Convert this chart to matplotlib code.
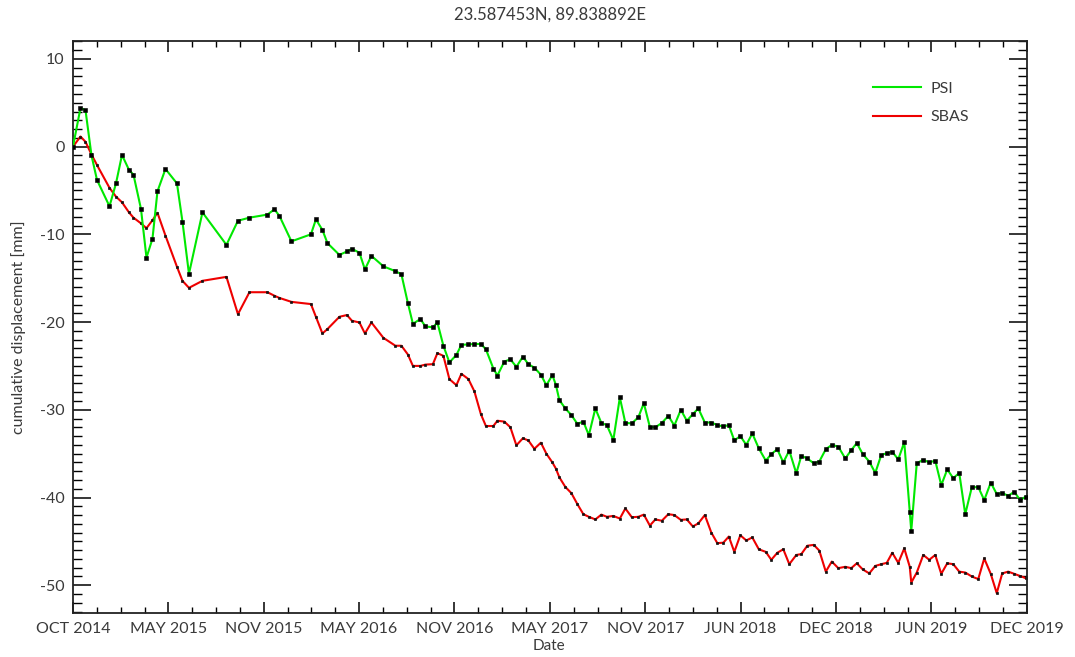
import numpy as np
import matplotlib
matplotlib.use('Agg')
import matplotlib.pyplot as plt
import matplotlib.dates as mdates
from matplotlib.ticker import MultipleLocator, FixedLocator

plt.rcParams['font.family'] = ['Lato', 'DejaVu Sans']
plt.rcParams['axes.unicode_minus'] = False

# acquisition days since first image
start = np.datetime64('2014-10-07')
days = [0, 15, 25, 37, 48, 73, 86, 98, 112, 121, 136, 147, 159, 169, 185, 208, 219, 232, 259, 307,
        330, 353, 389, 403, 413, 437, 476, 486, 499, 509, 533, 548, 558, 573, 584, 597, 621, 645, 657, 670,
        680, 695, 705, 720, 729, 741, 753, 767, 777, 791, 803, 816, 826, 841, 849, 863, 875, 887, 900, 911,
        923, 936, 947, 959, 966, 973, 985, 997, 1009, 1021, 1032, 1045, 1057, 1068, 1081, 1094, 1105, 1118, 1131, 1142,
        1154, 1165, 1178, 1191, 1203, 1216, 1228, 1240, 1251, 1264, 1277, 1289, 1301, 1312, 1323, 1335, 1347, 1359, 1372, 1386,
        1397, 1409, 1421, 1433, 1447, 1457, 1469, 1482, 1493, 1506, 1518, 1531, 1545, 1557, 1568, 1580, 1593, 1605, 1617, 1628,
        1639, 1651, 1663, 1674, 1677, 1688, 1701, 1713, 1725, 1737, 1749, 1761, 1773, 1785, 1798, 1811, 1823, 1836, 1848, 1859,
        1871, 1883, 1895, 1906]

psi = [0, 4.4, 4.15, -1.0, -3.8, -6.8, -4.2, -0.95, -2.65, -3.2, -7.1, -12.65, -10.5, -5.1, -2.55, -4.2, -8.55, -14.5, -7.5, -11.2,
       -8.45, -8.1, -7.75, -7.15, -7.9, -10.8, -10.0, -8.3, -9.5, -11.0, -12.35, -11.95, -11.65, -12.1, -14.0, -12.45, -13.65, -14.2, -14.55, -17.85,
       -20.2, -19.65, -20.5, -20.6, -20.05, -22.7, -24.6, -23.75, -22.6, -22.55, -22.5, -22.5, -23.1, -25.3, -26.1, -24.5, -24.25, -25.1, -23.95, -24.8,
       -25.2, -26.0, -27.2, -26.05, -27.15, -28.9, -29.85, -30.6, -31.6, -31.35, -32.9, -29.85, -31.5, -31.75, -33.45, -28.6, -31.5, -31.55, -30.85, -29.25,
       -31.95, -32.0, -31.5, -30.7, -31.8, -30.0, -31.25, -30.5, -29.85, -31.45, -31.45, -31.75, -31.9, -31.75, -33.5, -33.0, -34.0, -32.7, -34.4, -35.8,
       -35.05, -34.5, -36.0, -34.65, -37.25, -35.25, -35.55, -36.1, -35.9, -34.5, -34.0, -34.2, -35.55, -34.6, -33.8, -35.05, -35.9, -37.2, -35.15, -34.95,
       -34.8, -35.65, -33.7, -41.6, -43.8, -36.1, -35.7, -36.0, -35.8, -38.6, -36.8, -37.8, -37.2, -41.9, -38.85, -38.8, -40.3, -38.3, -39.6, -39.5,
       -39.8, -39.35, -40.3, -39.9]

sbas = [0, 1.15, 0.55, -0.9, -2.1, -4.7, -5.7, -6.35, -7.5, -8.1, -8.75, -9.3, -8.4, -7.55, -10.15, -13.7, -15.3, -16.1, -15.3, -14.85,
        -19.1, -16.6, -16.6, -17.0, -17.25, -17.7, -17.95, -19.4, -21.3, -20.8, -19.4, -19.2, -19.85, -20.05, -21.3, -20.05, -21.8, -22.7, -22.7, -23.7,
        -25.0, -25.0, -24.85, -24.8, -23.55, -23.85, -26.5, -27.2, -25.9, -26.5, -27.9, -30.5, -31.85, -31.85, -31.25, -31.35, -32.0, -34.05, -33.25, -33.5,
        -34.45, -33.75, -35.0, -36.0, -36.7, -37.7, -38.8, -39.5, -40.75, -41.9, -42.2, -42.5, -41.95, -42.2, -42.1, -42.4, -41.25, -42.25, -42.2, -41.95,
        -43.2, -42.5, -42.65, -41.9, -42.0, -42.55, -42.5, -43.3, -42.95, -42.0, -44.0, -45.2, -45.15, -44.45, -46.2, -44.3, -44.9, -44.55, -45.9, -46.2,
        -47.1, -46.3, -45.9, -47.6, -46.55, -46.45, -45.5, -45.4, -46.05, -48.45, -47.3, -48.05, -47.9, -48.05, -47.5, -48.2, -48.65, -47.8, -47.6, -47.45,
        -46.3, -47.45, -45.8, -47.9, -49.7, -48.55, -46.55, -47.1, -46.55, -48.7, -47.5, -47.6, -48.45, -48.55, -49.0, -49.3, -46.95, -48.7, -50.9, -48.65,
        -48.45, -48.7, -48.95, -49.2]

x_labels = ['OCT 2014', 'MAY 2015', 'NOV 2015', 'MAY 2016', 'NOV 2016', 'MAY 2017',
            'NOV 2017', 'JUN 2018', 'DEC 2018', 'JUN 2019', 'DEC 2019']

dates = start + np.array(days).astype('timedelta64[D]')
txt = '#3a3a3a'

fig = plt.figure(figsize=(10.75, 6.57), dpi=100)
ax = fig.add_axes([0.0679, 0.0665, 0.8872, 0.8706])

ax.plot(dates, psi, color='#00e800', lw=1.5, marker='s', ms=2.3, mfc='k', mec='k', mew=0.4, label='PSI', zorder=3)
ax.plot(dates, sbas, color='#ee0000', lw=1.5, marker='s', ms=2.1, mfc='#111111', mec='#111111', mew=0.5,
        label='SBAS', zorder=2)

x0 = mdates.date2num(start)
x1 = x0 + 1908
ax.set_xlim(x0, x1)
ax.set_xticks(np.linspace(x0, x1, 11))
ax.set_xticklabels(x_labels)
ax.xaxis.set_minor_locator(FixedLocator(np.linspace(x0, x1, 41)))

ax.set_ylim(-53.2, 12)
ax.yaxis.set_major_locator(MultipleLocator(10))
ax.yaxis.set_minor_locator(MultipleLocator(1))

ax.tick_params(axis='x', which='major', direction='in', length=8, width=1.1, top=True,
               labelsize=11.5, labelcolor=txt, pad=6)
ax.tick_params(axis='x', which='minor', direction='in', length=4.5, width=1.0, top=True)
ax.tick_params(axis='y', which='major', direction='in', length=13, width=1.1, right=True,
               labelsize=11.5, labelcolor=txt, pad=6)
ax.tick_params(axis='y', which='minor', direction='in', length=6.5, width=1.0, right=True)
for s in ax.spines.values():
    s.set_linewidth(1.3)
    s.set_color('#222222')

fig.text(0.5116, 1 - 15 / 657, '23.587453N, 89.838892E', ha='center', va='center', fontsize=12, color=txt)
fig.text(549 / 1075, 1 - 646 / 657, 'Date', ha='center', va='center', fontsize=11, color=txt)
fig.text(19 / 1075, 1 - 327 / 657, 'cumulative displacement [mm]', ha='center', va='center',
         rotation=90, fontsize=11.5, color=txt)

leg = ax.legend(loc='upper right', bbox_to_anchor=(0.955, 0.955), frameon=False, fontsize=11.5,
                handlelength=3.0, labelspacing=0.9, handletextpad=0.6, markerscale=0)
for t in leg.get_texts():
    t.set_color(txt)

fig.savefig('out.png', dpi=100)
